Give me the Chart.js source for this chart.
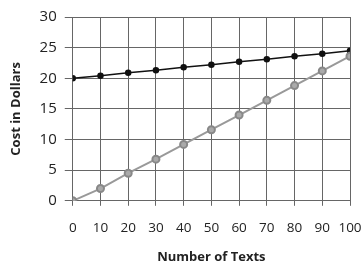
<!DOCTYPE html>
<html>
<head>
<meta charset="utf-8">
<script src="https://cdn.jsdelivr.net/npm/chart.js@4/dist/chart.umd.min.js"></script>
<style>
  html, body { margin: 0; padding: 0; background: #fff; }
  #wrap { width: 362px; height: 265px; }
</style>
</head>
<body>
<div id="wrap"><canvas id="chart"></canvas></div>
<script>
const texts = [0, 10, 20, 30, 40, 50, 60, 70, 80, 90, 100];
const planA = [20, 20.4, 20.9, 21.3, 21.8, 22.2, 22.7, 23.1, 23.6, 24.0, 24.5];
const planB = [0, 2.0, 4.5, 6.8, 9.2, 11.6, 14.0, 16.4, 18.8, 21.2, 23.6];
const yTicks = [0, 5, 10, 15, 20, 25, 30];

const ctx = document.getElementById('chart').getContext('2d');
Chart.defaults.font.family = "'Open Sans', sans-serif";
Chart.defaults.color = '#222';

new Chart(ctx, {
    type: 'line',
    data: {
        datasets: [{
            label: 'Plan B',
            data: texts.map((x, i) => ({ x: x, y: planB[i] })),
            borderColor: '#999',
            backgroundColor: '#999',
            borderWidth: 2,
            pointRadius: 3.5,
            pointBorderColor: '#888',
            pointBackgroundColor: '#aaa'
        }, {
            label: 'Plan A',
            data: texts.map((x, i) => ({ x: x, y: planA[i] })),
            borderColor: '#111',
            backgroundColor: '#111',
            borderWidth: 1.5,
            pointRadius: 2.5
        }]
    },
    options: {
        responsive: true,
        maintainAspectRatio: false,
        animation: false,
        layout: { padding: { left: 4, right: 0, top: 10, bottom: 0 } },
        plugins: {
            legend: { display: false },
            tooltip: { enabled: false }
        },
        scales: {
            x: {
                type: 'linear',
                min: 0,
                max: 100,
                afterFit: (scale) => { scale.paddingRight = 12; },
                ticks: {
                    stepSize: 10,
                    font: { size: 13.5 },
                    padding: 14,
                    color: '#222',
                    maxRotation: 0,
                    minRotation: 0,
                    autoSkip: false
                },
                grid: { color: '#666', lineWidth: 1, tickLength: 5 },
                border: { color: '#666' },
                title: {
                    display: true,
                    text: 'Number of Texts',
                    font: { size: 13, weight: 'bold', lineHeight: 1 },
                    padding: { top: 1, bottom: 1 }
                }
            },
            y: {
                min: 0,
                max: 30,
                afterBuildTicks: (axis) => {
                    const t = [];
                    for (let v = 0; v <= 30; v += 2.5) t.push({ value: v });
                    axis.ticks = t;
                },
                ticks: {
                    font: { size: 15 },
                    color: '#222',
                    padding: 8,
                    callback: (v) => yTicks.includes(v) ? v : ''
                },
                grid: {
                    color: '#666',
                    lineWidth: 1,
                    tickLength: 8,
                    tickColor: (c) => yTicks.includes(c.tick.value) ? '#666' : 'rgba(0,0,0,0)'
                },
                border: { color: '#666' },
                title: {
                    display: true,
                    text: 'Cost in Dollars',
                    font: { size: 13, weight: 'bold' },
                    padding: { bottom: 8 }
                }
            }
        }
    }
});
</script>
</body>
</html>
